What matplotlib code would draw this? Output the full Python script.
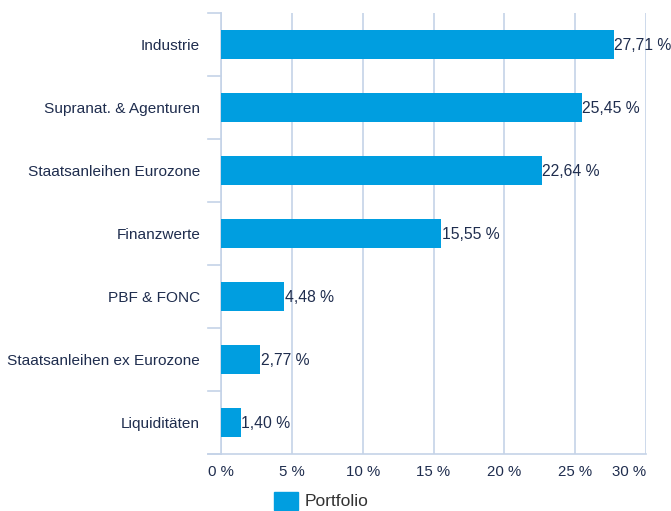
import matplotlib
matplotlib.use("Agg")
import matplotlib.pyplot as plt
from matplotlib.patches import Rectangle
import matplotlib.transforms as mtrans

categories = ["Industrie", "Supranat. & Agenturen", "Staatsanleihen Eurozone",
              "Finanzwerte", "PBF & FONC", "Staatsanleihen ex Eurozone", "Liquiditäten"]
values = [27.71, 25.45, 22.64, 15.55, 4.48, 2.77, 1.40]
xticks = [0, 5, 10, 15, 20, 25, 30]
xtick_labels = ["0 %", "5 %", "10 %", "15 %", "20 %", "25 %", "30 %"]
series_name = "Portfolio"

bar_color = "#009ee0"
text_color = "#1f2d4e"
grid_color = "#c5d3e8"

plt.rcParams['font.family'] = ['Liberation Sans', 'DejaVu Sans']

fig = plt.figure(figsize=(6.71, 5.11), dpi=100)
ax = fig.add_axes([221/671, 1-454/511, (646-221)/671, (454-13)/511])

n = len(categories)
ypos = list(range(n))
ax.barh(ypos, values, height=0.46, color=bar_color, zorder=3)
for y, v in zip(ypos, values):
    ax.text(v + 0.03, y + 0.02, f"{v:.2f} %".replace(".", ","), va="center", ha="left",
            fontsize=11.3, color=text_color, zorder=4)

ax.set_xlim(0, 30)
ax.set_ylim(n - 0.5, -0.5)
ax.set_yticks(ypos)
ax.set_yticklabels(categories, fontsize=11.1, color=text_color)
ax.tick_params(axis='y', length=0, pad=15)
ax.set_xticks(xticks)
ax.set_xticklabels(xtick_labels, fontsize=10.8, color=text_color)
ax.tick_params(axis='x', length=0, pad=8)
lbls = ax.get_xticklabels()
lbls[-1].set_horizontalalignment('right')
lbls[-1].set_transform(lbls[-1].get_transform() + mtrans.ScaledTranslation(0.0, 0, fig.dpi_scale_trans))

ax.grid(axis='x', color=grid_color, linewidth=1.2, zorder=0)
for s in ["top", "right"]:
    ax.spines[s].set_visible(False)
ax.spines["left"].set_color(grid_color)
ax.spines["left"].set_linewidth(1.2)
ax.spines["bottom"].set_color(grid_color)
ax.spines["bottom"].set_linewidth(1.2)
ax.spines["bottom"].set_bounds(-0.9, 30)
ax.spines["bottom"].set_zorder(1)

# category boundary ticks on the left
for b in range(n + 1):
    ax.plot([-0.9, 0], [b - 0.5, b - 0.5], color=grid_color, linewidth=1.2,
            clip_on=False, zorder=1)

# legend
leg_ax = fig.add_axes([0, 0, 1, 1], facecolor='none')
leg_ax.set_xlim(0, 671)
leg_ax.set_ylim(511, 0)
leg_ax.axis('off')
leg_ax.add_patch(Rectangle((274, 492), 24, 18, color=bar_color))
leg_ax.text(305, 501, series_name, va="center", ha="left", fontsize=12.5, color="#333333")

fig.savefig("out.png", dpi=100)
